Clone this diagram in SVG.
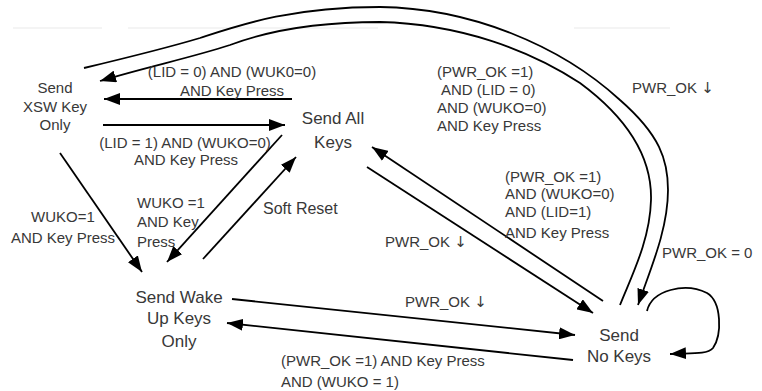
<svg xmlns="http://www.w3.org/2000/svg" width="762" height="391" viewBox="0 0 762 391">
<style>
.n{font-family:"Liberation Sans",Arial,sans-serif;font-size:17px;fill:#383838;text-anchor:middle}
.ns{font-family:"Liberation Sans",Arial,sans-serif;font-size:15px;fill:#383838;text-anchor:middle}
.l{font-family:"Liberation Sans",Arial,sans-serif;font-size:15px;fill:#383838}
.c{text-anchor:middle}
.ar{font-family:"DejaVu Sans",sans-serif;font-size:15px}
.e{fill:none;stroke:#000;stroke-width:1.8}
.a{marker-end:url(#ah)}
.g{stroke:#f0f0f0;stroke-width:1.5}
</style>
<defs>
<marker id="ah" markerUnits="userSpaceOnUse" markerWidth="17" markerHeight="12" refX="16" refY="6" orient="auto">
<path d="M0,0 L16,6 L0,12 z" fill="#000"/>
</marker>
</defs>
<rect width="762" height="391" fill="#fff"/>
<g id="bg">
<line class="g" x1="13" y1="28" x2="102" y2="28"/>
<line class="g" x1="128" y1="28" x2="378" y2="28"/>
<line class="g" x1="574" y1="28" x2="670" y2="28"/>
</g>
<g id="connectors">
<path class="e a" d="M292,99 L104,99"/>
<path class="e a" d="M103,125 L285,125"/>
<path class="e a" d="M603,301 L372,147"/>
<path class="e a" d="M367,167 L593,313"/>
<path class="e a" d="M232,299 L575,335"/>
<path class="e a" d="M573,360 L227,323"/>
<path class="e a" d="M60,153 L142,272"/>
<path class="e a" d="M282,135 L167,262"/>
<path class="e a" d="M203,259 L296,157"/>
<path class="e a" d="M647,311 C652,290 685,282 707,293 C722,302 722,335 713,348 C707,355 690,353 670,354"/>
<path class="e a" d="M84,68 C130,57 170,47 200,38 C240,25 290,7 380,7 C470,8 560,45 620,100 C660,135 668,160 668,190 C668,230 650,270 638,305"/>
<path class="e a" d="M620,305 C632,275 650,240 651,200 C652,160 630,120 580,83 C530,50 460,24 380,22 C320,22 270,30 230,45 C190,58 150,66 100,81"/>
</g>
<g id="xsw">
<text class="ns" x="55" y="93">Send</text>
<text class="ns" x="55" y="112">XSW Key</text>
<text class="ns" x="55" y="130">Only</text>
</g>
<g id="all">
<text class="n" x="333" y="124">Send All</text>
<text class="n" x="333" y="148">Keys</text>
</g>
<g id="wake">
<text class="n" x="179" y="303">Send Wake</text>
<text class="n" x="179" y="324">Up Keys</text>
<text class="n" x="179" y="347">Only</text>
</g>
<g id="nokeys">
<text class="n" x="619" y="341">Send</text>
<text class="n" x="619" y="362">No Keys</text>
</g>
<g id="labels">
<text class="l c" x="232" y="77">(LID = 0) AND (WUK0=0)</text>
<text class="l c" x="232" y="96">AND Key Press</text>
<text class="l c" x="185" y="148">(LID = 1) AND (WUKO=0)</text>
<text class="l c" x="186" y="165">AND Key Press</text>
<text class="l" x="437" y="77">(PWR_OK =1)</text>
<text class="l" x="441" y="95">AND (LID = 0)</text>
<text class="l" x="437" y="113">AND (WUKO=0)</text>
<text class="l" x="437" y="131">AND Key Press</text>
<text class="l" x="632" y="93">PWR_OK <tspan class="ar">↓</tspan></text>
<text class="l" x="505" y="182">(PWR_OK =1)</text>
<text class="l" x="505" y="199">AND (WUKO=0)</text>
<text class="l" x="505" y="217">AND (LID=1)</text>
<text class="l" x="505" y="238">AND Key Press</text>
<text class="l" x="385" y="247">PWR_OK <tspan class="ar">↓</tspan></text>
<text class="l" x="662" y="258">PWR_OK = 0</text>
<text class="l" x="405" y="307">PWR_OK <tspan class="ar">↓</tspan></text>
<text class="l" x="281" y="366">(PWR_OK =1) AND Key Press</text>
<text class="l" x="281" y="387">AND (WUKO = 1)</text>
<text class="l c" x="63" y="222">WUKO=1</text>
<text class="l c" x="63" y="243">AND Key Press</text>
<text class="l" x="137" y="208">WUKO =1</text>
<text class="l" x="137" y="227">AND Key</text>
<text class="l" x="137" y="247">Press</text>
<text class="l" x="263" y="214" style="font-size:16px">Soft Reset</text>
</g>
</svg>
